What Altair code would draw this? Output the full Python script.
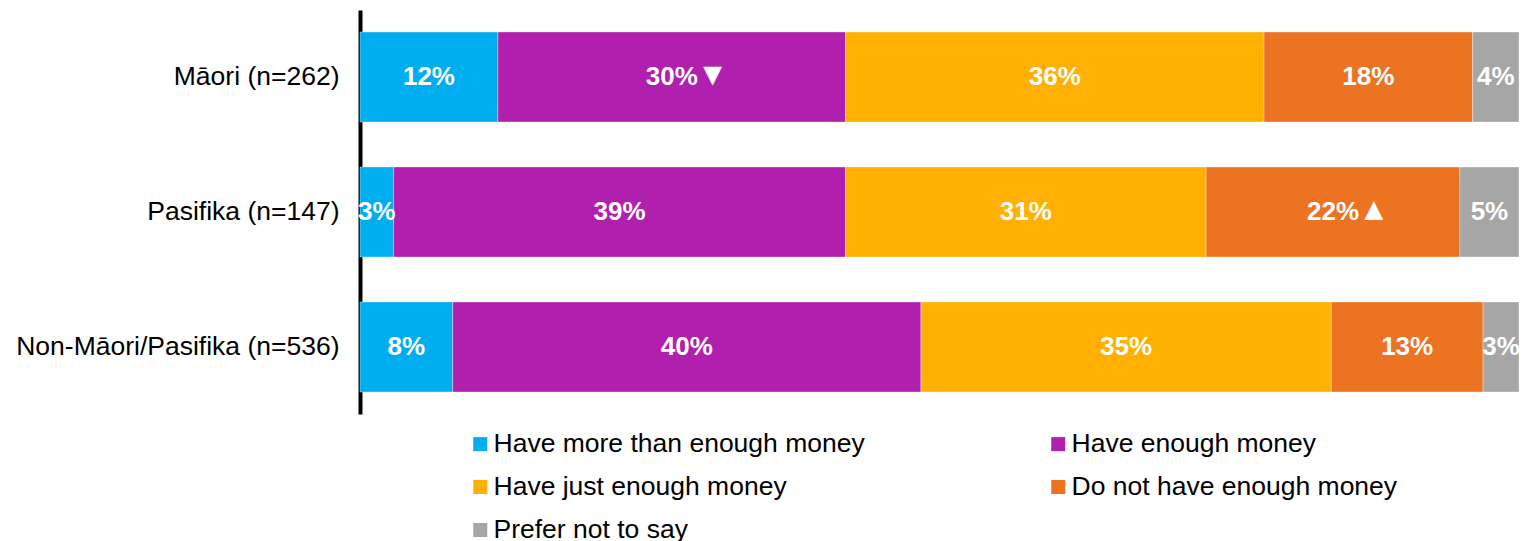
import altair as alt
import pandas as pd

groups = ["Māori (n=262)", "Pasifika (n=147)", "Non-Māori/Pasifika (n=536)"]
categories = [
    "Have more than enough money",
    "Have enough money",
    "Have just enough money",
    "Do not have enough money",
    "Prefer not to say",
]
colors = ["#00AEEF", "#B01FAD", "#FFB000", "#EC7321", "#A6A6A6"]

# values per category, in order of groups
more_than_enough = [11.9, 2.9, 8.0]
enough = [30.0, 39.0, 40.4]
just_enough = [36.1, 31.1, 35.4]
not_enough = [18.0, 21.9, 13.1]
prefer_not = [4.0, 5.1, 3.1]

more_than_enough_lbl = ["12%", "3%", "8%"]
enough_lbl = ["30%", "39%", "40%"]
just_enough_lbl = ["36%", "31%", "35%"]
not_enough_lbl = ["18%", "22%", "13%"]
prefer_not_lbl = ["4%", "5%", "3%"]

# significance markers (▼ significantly lower, ▲ significantly higher)
more_than_enough_sig = ["", "", ""]
enough_sig = ["▼", "", ""]
just_enough_sig = ["", "", ""]
not_enough_sig = ["", "▲", ""]
prefer_not_sig = ["", "", ""]

series = [more_than_enough, enough, just_enough, not_enough, prefer_not]
series_lbl = [more_than_enough_lbl, enough_lbl, just_enough_lbl, not_enough_lbl, prefer_not_lbl]
series_sig = [more_than_enough_sig, enough_sig, just_enough_sig, not_enough_sig, prefer_not_sig]

rows = []
for ci, (cat, vals, lbls, sigs) in enumerate(zip(categories, series, series_lbl, series_sig)):
    for gi, g in enumerate(groups):
        rows.append({"group": g, "category": cat, "order": ci, "value": vals[gi],
                     "label": lbls[gi], "sig": sigs[gi]})
df = pd.DataFrame(rows)

FONT = "Liberation Sans, Arial, sans-serif"

base = alt.Chart(df).transform_stack(
    stack="value", as_=["x0", "x1"], groupby=["group"],
    sort=[alt.SortField("order", order="ascending")],
).transform_calculate(mid="(datum.x0 + datum.x1) / 2")

yenc = alt.Y(
    "group:N", sort=groups,
    scale=alt.Scale(paddingInner=0.333, paddingOuter=0.163),
    axis=alt.Axis(title=None, domainColor="black", domainWidth=4, ticks=False,
                  labelFontSize=26.5, labelColor="black", labelFont=FONT, labelPadding=21,
                  labelLimit=600),
)

bars = base.mark_bar(stroke="white", strokeWidth=0.6, strokeOpacity=0.6).encode(
    y=yenc,
    x=alt.X("x0:Q", scale=alt.Scale(domain=[0, 100], nice=False), axis=None),
    x2="x1:Q",
    color=alt.Color(
        "category:N",
        scale=alt.Scale(domain=categories, range=colors),
        legend=alt.Legend(
            title=None, orient="none", legendX=107, legendY=420.75, columns=2,
            direction="horizontal",
            symbolType="square", symbolSize=196, symbolStrokeWidth=0,
            labelFontSize=26.5, labelFont=FONT, labelColor="black", labelOffset=0,
            rowPadding=16, columnPadding=180, labelLimit=600, padding=0,
        ),
    ),
)

text = base.mark_text(color="white", fontWeight="bold", fontSize=26, font=FONT, baseline="middle").encode(
    y=alt.Y("group:N", sort=groups),
    x=alt.X("mid:Q"),
    text="label:N",
)

sig = base.transform_filter("datum.sig != ''").mark_text(
    color="white", fontWeight="bold", fontSize=32, font=FONT, baseline="middle", align="left",
    dx=25, dy=-2
).encode(
    y=alt.Y("group:N", sort=groups),
    x=alt.X("mid:Q"),
    text="sig:N",
)

chart = alt.layer(bars, text, sig).properties(
    width=1159, height=404,
    padding={"left": 352, "top": 2, "right": 0, "bottom": 127},
    autosize=alt.AutoSizeParams(type="none"),
).configure_view(stroke=None)

chart.save("out.html", embed_options={"renderer": "svg", "actions": False})
